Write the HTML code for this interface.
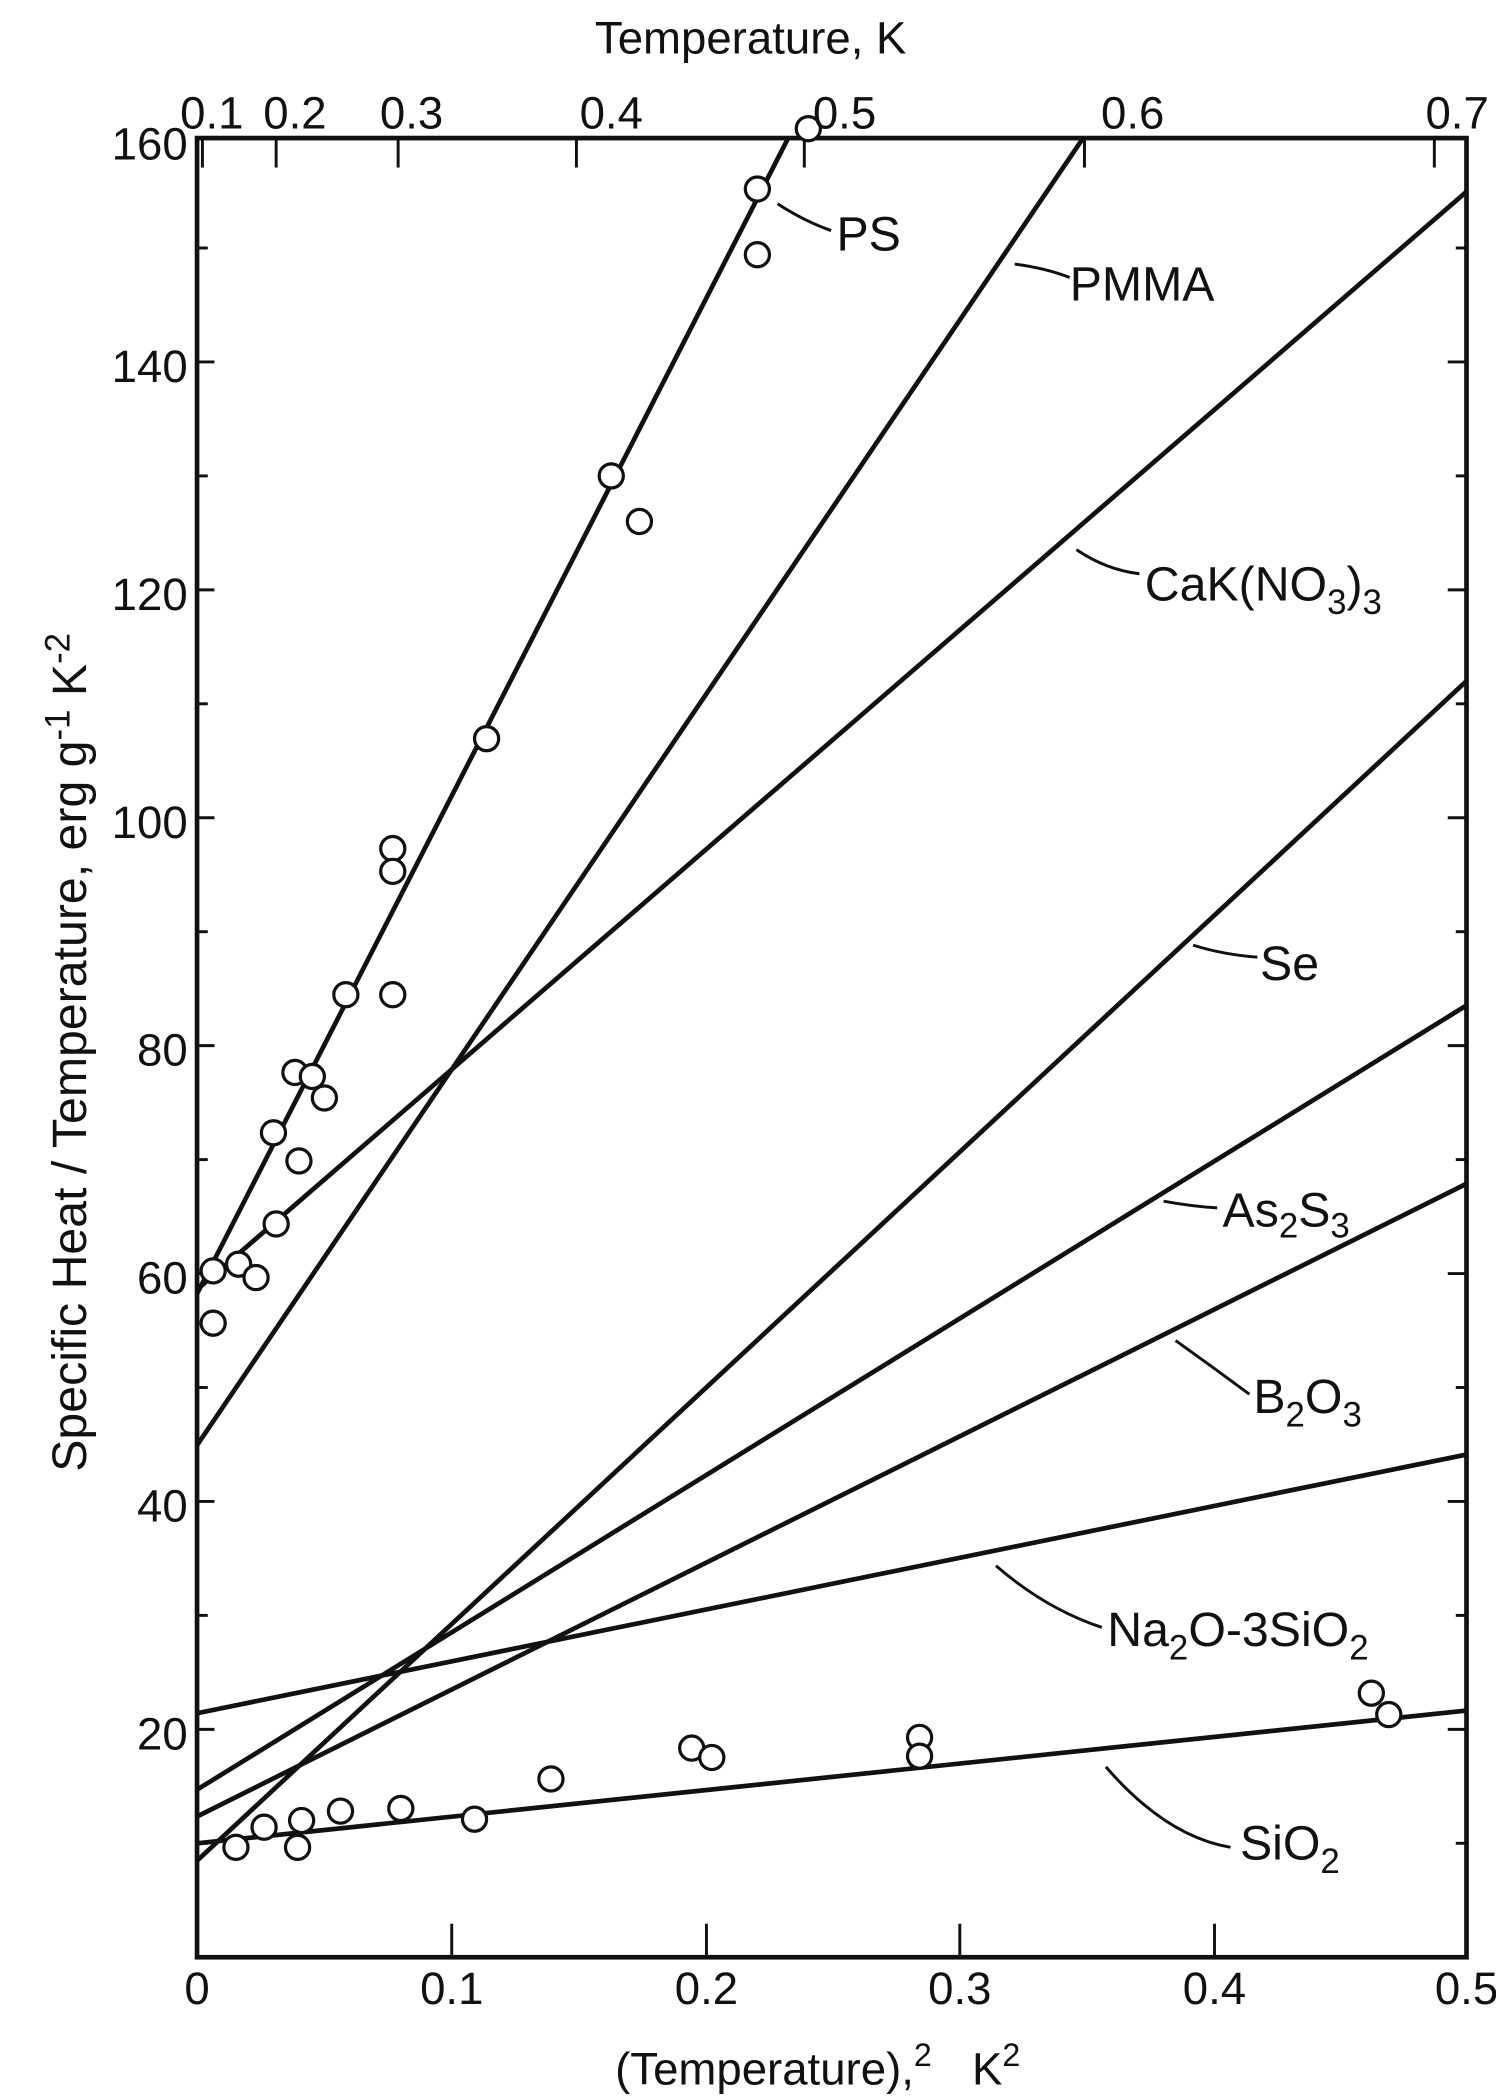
<!DOCTYPE html>
<html><head><meta charset="utf-8"><style>
html,body{margin:0;padding:0;background:#fff}
svg{display:block}
text{font-family:"Liberation Sans",sans-serif;fill:#111}
</style></head><body>
<svg width="1496" height="2098" viewBox="0 0 1116 1565" preserveAspectRatio="none" xmlns="http://www.w3.org/2000/svg">
<g stroke="#111" fill="none" stroke-width="3.5">
<rect x="147" y="103" width="947" height="1357"/>
</g>
<g stroke="#111" stroke-width="2.2">
<line x1="147" y1="1290" x2="160" y2="1290"/><line x1="147" y1="1120" x2="160" y2="1120"/><line x1="147" y1="950" x2="160" y2="950"/><line x1="147" y1="780" x2="160" y2="780"/><line x1="147" y1="610" x2="160" y2="610"/><line x1="147" y1="440" x2="160" y2="440"/><line x1="147" y1="270" x2="160" y2="270"/>
<line x1="147" y1="1375" x2="155" y2="1375"/><line x1="147" y1="1205" x2="155" y2="1205"/><line x1="147" y1="1035" x2="155" y2="1035"/><line x1="147" y1="865" x2="155" y2="865"/><line x1="147" y1="695" x2="155" y2="695"/><line x1="147" y1="525" x2="155" y2="525"/><line x1="147" y1="355" x2="155" y2="355"/><line x1="147" y1="185" x2="155" y2="185"/>
<line x1="1094" y1="1290" x2="1080" y2="1290"/><line x1="1094" y1="1120" x2="1080" y2="1120"/><line x1="1094" y1="950" x2="1080" y2="950"/><line x1="1094" y1="780" x2="1080" y2="780"/><line x1="1094" y1="610" x2="1080" y2="610"/><line x1="1094" y1="440" x2="1080" y2="440"/><line x1="1094" y1="270" x2="1080" y2="270"/>
<line x1="1094" y1="1375" x2="1086" y2="1375"/><line x1="1094" y1="1205" x2="1086" y2="1205"/><line x1="1094" y1="1035" x2="1086" y2="1035"/><line x1="1094" y1="865" x2="1086" y2="865"/><line x1="1094" y1="695" x2="1086" y2="695"/><line x1="1094" y1="525" x2="1086" y2="525"/><line x1="1094" y1="355" x2="1086" y2="355"/><line x1="1094" y1="185" x2="1086" y2="185"/>
<line x1="337" y1="1460" x2="337" y2="1435"/><line x1="527" y1="1460" x2="527" y2="1435"/><line x1="716" y1="1460" x2="716" y2="1435"/><line x1="906" y1="1460" x2="906" y2="1435"/>
<line x1="151" y1="103" x2="151" y2="125"/><line x1="206" y1="103" x2="206" y2="125"/><line x1="297" y1="103" x2="297" y2="125"/><line x1="430" y1="103" x2="430" y2="125"/><line x1="600" y1="103" x2="600" y2="125"/><line x1="809" y1="103" x2="809" y2="125"/><line x1="1070" y1="103" x2="1070" y2="125"/>
</g>
<g stroke="#111" stroke-width="3.5" fill="none">
<line x1="147" y1="965" x2="588" y2="103"/>
<line x1="147" y1="1078" x2="808" y2="103"/>
<line x1="147" y1="962" x2="1094" y2="143"/>
<line x1="147" y1="1388" x2="1094" y2="508"/>
<line x1="147" y1="1335" x2="1094" y2="750"/>
<line x1="147" y1="1355" x2="1094" y2="883"/>
<line x1="147" y1="1278" x2="1094" y2="1085"/>
<line x1="147" y1="1375" x2="1094" y2="1276"/>
</g>
<g stroke="#111" stroke-width="2.4" fill="#fff">
<circle cx="603" cy="96" r="9"/><circle cx="565" cy="141" r="9"/><circle cx="565" cy="190" r="9"/><circle cx="456" cy="355" r="9"/><circle cx="477" cy="389" r="9"/><circle cx="363" cy="551" r="9"/><circle cx="293" cy="633" r="9"/><circle cx="293" cy="650" r="9"/><circle cx="258" cy="742" r="9"/><circle cx="293" cy="742" r="9"/><circle cx="220" cy="800" r="9"/><circle cx="233" cy="803" r="9"/><circle cx="242" cy="819" r="9"/><circle cx="204" cy="845" r="9"/><circle cx="223" cy="866" r="9"/><circle cx="206" cy="913" r="9"/><circle cx="178" cy="943" r="9"/><circle cx="159" cy="948" r="9"/><circle cx="191" cy="953" r="9"/><circle cx="159" cy="987" r="9"/>
<circle cx="1023" cy="1263" r="9"/><circle cx="1036" cy="1279" r="9"/><circle cx="686" cy="1296" r="9"/><circle cx="686" cy="1310" r="9"/><circle cx="516" cy="1304" r="9"/><circle cx="531" cy="1311" r="9"/><circle cx="411" cy="1327" r="9"/><circle cx="354" cy="1357" r="9"/><circle cx="299" cy="1349" r="9"/><circle cx="254" cy="1351" r="9"/><circle cx="225" cy="1358" r="9"/><circle cx="197" cy="1363" r="9"/><circle cx="176" cy="1378" r="9"/><circle cx="222" cy="1378" r="9"/>
</g>
<g stroke="#111" stroke-width="2.2" fill="none">
<path d="M620,172 Q600,165 580,152"/>
<path d="M798,207 Q780,200 757,197"/>
<path d="M850,428 Q825,425 803,410"/>
<path d="M938,714 Q912,712 890,705"/>
<path d="M908,901 Q890,900 868,896"/>
<path d="M932,1040 Q905,1020 877,1000"/>
<path d="M822,1214 Q780,1200 743,1168"/>
<path d="M918,1378 Q870,1370 825,1318"/>
</g>
<g font-size="36">
<text x="624" y="187">PS</text>
<text x="798" y="224">PMMA</text>
<text x="854" y="448">CaK(NO<tspan font-size="26" dy="10">3</tspan><tspan dy="-10">)</tspan><tspan font-size="26" dy="10">3</tspan></text>
<text x="940" y="731">Se</text>
<text x="912" y="915">As<tspan font-size="26" dy="8">2</tspan><tspan dy="-8">S</tspan><tspan font-size="26" dy="8">3</tspan></text>
<text x="935" y="1054">B<tspan font-size="26" dy="10">2</tspan><tspan dy="-10">O</tspan><tspan font-size="26" dy="10">3</tspan></text>
<text x="826" y="1228">Na<tspan font-size="26" dy="10">2</tspan><tspan dy="-10">O-3SiO</tspan><tspan font-size="26" dy="10">2</tspan></text>
<text x="925" y="1387">SiO<tspan font-size="26" dy="10">2</tspan></text>
</g>
<g font-size="34" text-anchor="end">
<text x="140" y="119">160</text><text x="140" y="285">140</text><text x="140" y="455">120</text><text x="140" y="625">100</text><text x="140" y="795">80</text><text x="140" y="965">60</text><text x="140" y="1135">40</text><text x="140" y="1305">20</text>
</g>
<g font-size="34" text-anchor="middle">
<text x="147" y="1495">0</text><text x="337" y="1495">0.1</text><text x="527" y="1495">0.2</text><text x="716" y="1495">0.3</text><text x="906" y="1495">0.4</text><text x="1094" y="1495">0.5</text>
<text x="158" y="96">0.1</text><text x="220" y="96">0.2</text><text x="307" y="96">0.3</text><text x="456" y="96">0.4</text><text x="630" y="96">0.5</text><text x="845" y="96">0.6</text><text x="1087" y="96">0.7</text>
</g>
<text x="560" y="40" font-size="34" text-anchor="middle">Temperature, K</text>
<text x="610" y="1555" font-size="34" text-anchor="middle">(Temperature),<tspan font-size="24" dy="-14">2</tspan><tspan dy="14" dx="30">K</tspan><tspan font-size="24" dy="-14">2</tspan></text>
<text transform="translate(64,785) rotate(-90)" font-size="36" text-anchor="middle">Specific  Heat / Temperature, erg g<tspan font-size="26" dy="-12">-1</tspan><tspan dy="12"> K</tspan><tspan font-size="26" dy="-12">-2</tspan></text>
</svg>
</body></html>
